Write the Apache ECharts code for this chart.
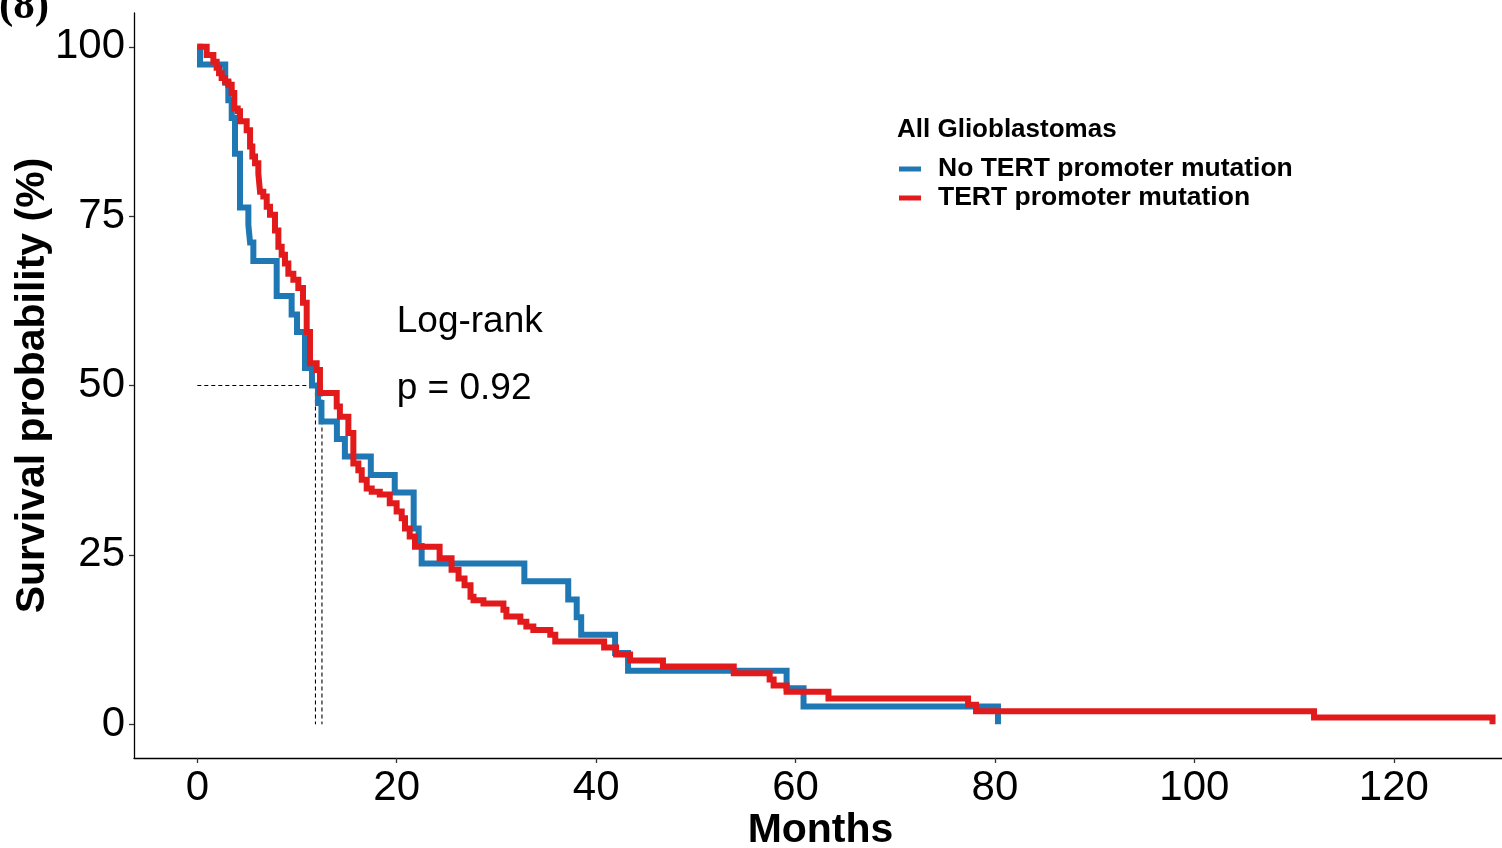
<!DOCTYPE html>
<html>
<head>
<meta charset="utf-8">
<script src="https://cdn.jsdelivr.net/npm/echarts@6/dist/echarts.min.js"></script>
<style>
  html, body { margin: 0; padding: 0; background: #fff; }
  #chart { width: 1502px; height: 848px; }
</style>
</head>
<body>
<div id="chart"></div>
<script>
// Kaplan-Meier survival, all glioblastomas, by TERT promoter status
const groupNames = ['No TERT promoter mutation', 'TERT promoter mutation'];
const groupColors = ['#1F78B4', '#E31A1C'];

// No TERT promoter mutation: event times (months) and survival (%) after each step
const noTertMonths = [0, 0.27, 2.8, 3.11, 3.45, 3.78, 4.28, 5.12, 5.29, 5.62, 7.96, 9.46, 10.0, 10.8, 11.5, 12.1, 12.45, 14.0, 14.8, 17.4, 19.8, 21.7, 22.2, 22.5, 32.8, 37.2, 38.05, 38.5, 41.9, 43.2, 59.1, 60.8, 80.3];
const noTertSurv   = [100, 97.4, 94.7, 92.1, 89.5, 84.2, 76.3, 73.7, 71.1, 68.4, 63.2, 60.5, 57.9, 52.6, 50.0, 47.4, 44.7, 42.1, 39.5, 36.8, 34.2, 28.9, 26.3, 23.7, 21.1, 18.4, 15.8, 13.2, 10.5, 7.9, 5.3, 2.6, 0];

// TERT promoter mutation
const tertMonths = [0, 0.94, 1.61, 1.94, 2.18, 2.44, 2.78, 3.11, 3.45, 3.71, 4.05, 4.28, 4.95, 5.29, 5.52, 5.79, 6.12, 6.29, 6.62, 6.96, 7.29, 7.79, 8.13, 8.46, 8.79, 9.13, 9.63, 10.13, 10.6, 10.97, 11.3, 11.97, 12.3, 13.98, 14.3, 15.15, 15.65, 16.15, 16.49, 16.99, 17.49, 18.3, 19.3, 19.99, 20.5, 20.83, 21.3, 21.83, 24.3, 25.5, 26.2, 26.8, 27.4, 27.7, 28.7, 30.7, 31.0, 32.4, 33.0, 33.7, 35.4, 35.9, 40.8, 42.0, 43.4, 46.7, 53.8, 57.4, 57.8, 59.1, 63.3, 77.3, 78.1, 112.0, 129.9];
const tertSurv   = [100, 98.8, 97.8, 96.9, 96.1, 95.4, 94.9, 94.4, 93.2, 90.9, 90.5, 89.0, 87.7, 85.3, 83.8, 82.8, 81.3, 78.6, 77.9, 76.4, 75.2, 72.9, 70.5, 69.3, 68.0, 66.5, 65.6, 64.4, 62.2, 57.9, 53.3, 52.3, 48.9, 46.9, 45.4, 43.0, 38.5, 37.5, 36.1, 34.8, 34.3, 33.9, 32.6, 31.4, 30.4, 28.9, 27.7, 26.2, 24.5, 22.8, 21.5, 20.5, 18.8, 18.3, 17.8, 16.9, 15.9, 15.1, 14.4, 13.9, 13.2, 12.2, 11.3, 10.3, 9.4, 8.5, 7.5, 6.6, 5.7, 4.8, 3.8, 2.85, 1.9, 0.97, 0];

// Median survival (months) for each group
const medianMonths = [11.85, 12.5];

const xTicks = [0, 20, 40, 60, 80, 100, 120];
const yTicks = [0, 25, 50, 75, 100];

const testLabel = ['Log-rank', 'p = 0.92'];

const FONT = "'Liberation Sans', Arial, sans-serif";

function pairs(xs, ys) { return xs.map((x, i) => [x, ys[i]]); }

const chart = echarts.init(document.getElementById('chart'), null, { renderer: 'canvas' });

const dashStyle = { color: '#000', width: 1.1, type: [4, 3] };
const medianSeries = [];
medianSeries.push({
  type: 'line', silent: true, symbol: 'none', z: 1,
  data: [[0, 50], [Math.max(...medianMonths), 50]],
  lineStyle: dashStyle
});
medianMonths.forEach(m => {
  medianSeries.push({
    type: 'line', silent: true, symbol: 'none', z: 1,
    data: [[m, 50], [m, 0]],
    lineStyle: dashStyle
  });
});

const kmSeries = [
  [noTertMonths, noTertSurv],
  [tertMonths, tertSurv]
].map((g, i) => ({
  name: groupNames[i],
  type: 'line',
  step: 'end',
  showSymbol: false,
  symbol: 'none',
  z: 3 + i,
  color: groupColors[i],
  data: pairs(g[0], g[1]),
  lineStyle: { width: 6, color: groupColors[i], cap: 'butt', join: 'miter' }
}));

chart.setOption({
  animation: false,
  backgroundColor: '#fff',
  title: {
    text: 'All Glioblastomas',
    left: 897, top: 115, padding: 0,
    textStyle: { fontFamily: FONT, fontSize: 26, fontWeight: 'bold', color: '#000', lineHeight: 30 }
  },
  legend: {
    data: groupNames,
    orient: 'vertical',
    left: 899, top: 154.5,
    padding: 0,
    itemGap: 0,
    itemWidth: 22, itemHeight: 5,
    icon: 'rect',
    selectedMode: false,
    textStyle: { fontFamily: FONT, fontSize: 26.5, fontWeight: 'bold', color: '#000', lineHeight: 29, padding: [0, 0, 0, 12] }
  },
  grid: { left: 134, right: 0, top: 13, bottom: 90, containLabel: false, outerBoundsMode: 'none' },
  xAxis: {
    type: 'value',
    min: -6.35, max: 130.85,
    name: 'Months',
    nameLocation: 'middle',
    nameGap: 52,
    nameMoveOverlap: false,
    nameTextStyle: { fontFamily: FONT, fontSize: 41, fontWeight: 'bold', color: '#000', lineHeight: 41, padding: [0, 0, 0, 5] },
    splitLine: { show: false },
    axisLine: { show: true, onZero: false, lineStyle: { color: '#000', width: 1.3 } },
    axisTick: { show: true, length: 5, customValues: xTicks, lineStyle: { color: '#333', width: 1.3 } },
    axisLabel: { customValues: xTicks, margin: 9, fontFamily: FONT, fontSize: 42, color: '#000' }
  },
  yAxis: {
    type: 'value',
    min: -5, max: 105,
    name: 'Survival probability (%)',
    nameLocation: 'middle',
    nameGap: 81,
    nameMoveOverlap: false,
    nameTextStyle: { fontFamily: FONT, fontSize: 41, fontWeight: 'bold', color: '#000', lineHeight: 41 },
    splitLine: { show: false },
    axisLine: { show: true, onZero: false, lineStyle: { color: '#000', width: 1.3 } },
    axisTick: { show: true, length: 5, customValues: yTicks, lineStyle: { color: '#333', width: 1.3 } },
    axisLabel: { customValues: yTicks, margin: 9, fontFamily: FONT, fontSize: 42, color: '#000' }
  },
  series: medianSeries.concat(kmSeries)
});

// Log-rank annotation, anchored in data coordinates
const p1 = chart.convertToPixel({ gridIndex: 0 }, [20, 59.4]);
const p2 = chart.convertToPixel({ gridIndex: 0 }, [20, 49.5]);
chart.setOption({
  graphic: [
    { type: 'text', x: p1[0], y: p1[1], style: { text: testLabel[0], font: "37px 'Liberation Sans', Arial, sans-serif", fill: '#000', textVerticalAlign: 'middle', textAlign: 'left' } },
    { type: 'text', x: p2[0], y: p2[1], style: { text: testLabel[1], font: "37px 'Liberation Sans', Arial, sans-serif", fill: '#000', textVerticalAlign: 'middle', textAlign: 'left' } },
    { type: 'text', x: -1, y: 28, style: { text: '(8)', font: "bold 43px 'Liberation Serif', 'Times New Roman', serif", fill: '#000', textVerticalAlign: 'bottom', textAlign: 'left' } }
  ]
});
</script>
</body>
</html>
